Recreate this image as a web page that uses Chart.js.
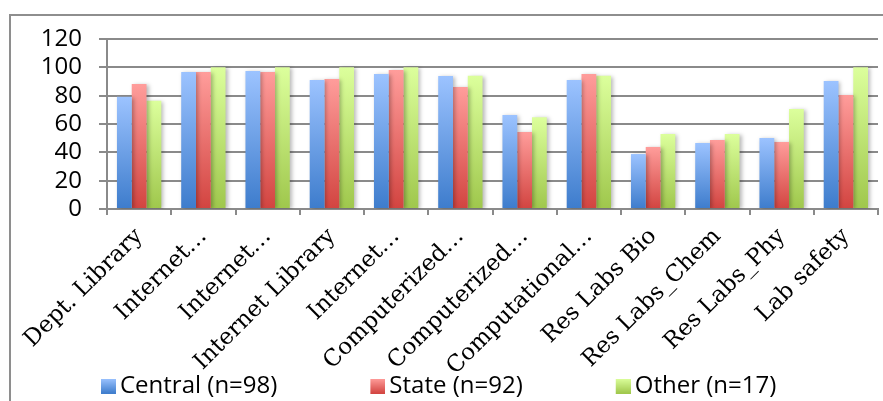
<!DOCTYPE html>
<html>
<head>
<meta charset="utf-8">
<script src="https://cdn.jsdelivr.net/npm/chart.js@4/dist/chart.umd.min.js"></script>
<style>
  html, body { margin: 0; padding: 0; background: #fff; overflow: hidden; }
  #wrap { position: relative; width: 883px; height: 401px; overflow: hidden; }
  #frame { position: absolute; left: 9px; top: 14px; width: 1000px; height: 500px;
           border: 2px solid #8e8e8e; box-sizing: border-box; }
  #box { position: absolute; left: 0; top: 0; width: 883px; height: 408px; }
</style>
</head>
<body>
<div id="wrap">
  <div id="frame"></div>
  <div id="box"><canvas id="c"></canvas></div>
</div>
<script>
// Facility categories along the x axis
const categories = [
  'Dept. Library', 'Internet…', 'Internet…', 'Internet Library', 'Internet…',
  'Computerized…', 'Computerized…', 'Computational…', 'Res Labs Bio',
  'Res Labs_Chem', 'Res Labs_Phy', 'Lab safety'
];

// Percentages per group of institutions
const central = [79.3, 96.7, 97.4, 91.1, 95.3, 93.9, 66.4, 91.1, 38.8, 46.6, 50.1, 90.4];
const state   = [88.2, 96.7, 96.7, 91.8, 98.1, 86.1, 54.4, 95.3, 43.8, 48.7, 47.3, 80.5];
const other   = [76.5, 100, 100, 100, 100, 94.1, 64.7, 94.1, 52.9, 52.9, 70.6, 100];

const seriesNames = ['Central (n=98)', 'State (n=92)', 'Other (n=17)'];

// Vertical gradient stops (top, bottom) for each series
const blueStops  = ['#9cc3ff', '#3d7ccc'];
const redStops   = ['#ff9d9b', '#d24440'];
const greenStops = ['#dcff9c', '#9fc74c'];

// Each bar gets its own top-to-bottom gradient
function barFill(stops) {
  return (ctx) => {
    const chart = ctx.chart;
    if (!chart.chartArea || ctx.type !== 'data') return stops[0];
    const y = chart.scales.y;
    const top = y.getPixelForValue(ctx.raw);
    const base = y.getPixelForValue(0);
    if (!isFinite(top) || !isFinite(base) || top === base) return stops[0];
    const g = chart.ctx.createLinearGradient(0, top, 0, base);
    g.addColorStop(0, stops[0]);
    g.addColorStop(1, stops[1]);
    return g;
  };
}

// Legend marker: a wide transparent strip with the gradient square at its
// right end, so the marker sits close to its text while the entries stay
// well spread out.
const MARK_SLOT = 100;  // legend box width reserved per entry
const MARK = 15;        // visible square size
function swatch(stops) {
  const c = document.createElement('canvas');
  c.width = MARK_SLOT + 16;
  c.height = MARK;
  const g = c.getContext('2d');
  const x0 = c.width - MARK;
  const gr = g.createLinearGradient(0, 0, 0, MARK);
  gr.addColorStop(0, stops[0]);
  gr.addColorStop(1, stops[1]);
  g.fillStyle = gr;
  g.fillRect(x0, 0, MARK, MARK);
  return c;
}
const swatches = [swatch(blueStops), swatch(redStops), swatch(greenStops)];

// Soft drop shadow behind the bars
const barShadow = {
  id: 'barShadow',
  beforeDatasetsDraw(chart) {
    const c = chart.ctx;
    c.save();
    c.shadowColor = 'rgba(0,0,0,0.28)';
    c.shadowBlur = 4;
    c.shadowOffsetX = 2;
    c.shadowOffsetY = 1;
  },
  afterDatasetsDraw(chart) {
    chart.ctx.restore();
  }
};

const gridGrey = '#8a8a8a';

new Chart(document.getElementById('c'), {
  type: 'bar',
  data: {
    labels: categories,
    datasets: [
      { label: seriesNames[0], data: central, backgroundColor: barFill(blueStops) },
      { label: seriesNames[1], data: state,   backgroundColor: barFill(redStops) },
      { label: seriesNames[2], data: other,   backgroundColor: barFill(greenStops) }
    ]
  },
  options: {
    responsive: true,
    maintainAspectRatio: false,
    animation: false,
    datasets: { bar: { categoryPercentage: 0.69, barPercentage: 1.0, borderWidth: 0 } },
    layout: { padding: { top: 39, right: 5, left: 8, bottom: 0 } },
    scales: {
      x: {
        grid: { display: true, drawOnChartArea: false, drawTicks: true, tickLength: 6,
                color: gridGrey, lineWidth: 2, offset: true },
        border: { display: true, color: gridGrey, width: 2 },
        ticks: { autoSkip: false, minRotation: 45, maxRotation: 45, padding: 8,
                 color: '#000', font: { family: 'DejaVu Serif', size: 23 } },
        afterFit(s) { s.height = 165; }
      },
      y: {
        min: 0, max: 120,
        grid: { color: gridGrey, lineWidth: 2, tickLength: 8 },
        border: { display: true, color: gridGrey, width: 2 },
        ticks: { stepSize: 20, autoSkip: false, padding: 17, color: '#000',
                 font: { family: 'Open Sans', size: 24 } },
        afterFit(s) { s.width = 99; }
      }
    },
    plugins: {
      tooltip: { enabled: false },
      legend: {
        position: 'bottom',
        align: 'start',
        labels: {
          usePointStyle: true,
          pointStyleWidth: MARK_SLOT,
          padding: 0,
          color: '#000',
          font: { family: 'Open Sans', size: 24 },
          generateLabels(chart) {
            const items = Chart.defaults.plugins.legend.labels.generateLabels(chart);
            items.forEach((it, i) => { it.pointStyle = swatches[i]; });
            return items;
          }
        }
      }
    }
  },
  plugins: [barShadow]
});
</script>
</body>
</html>
